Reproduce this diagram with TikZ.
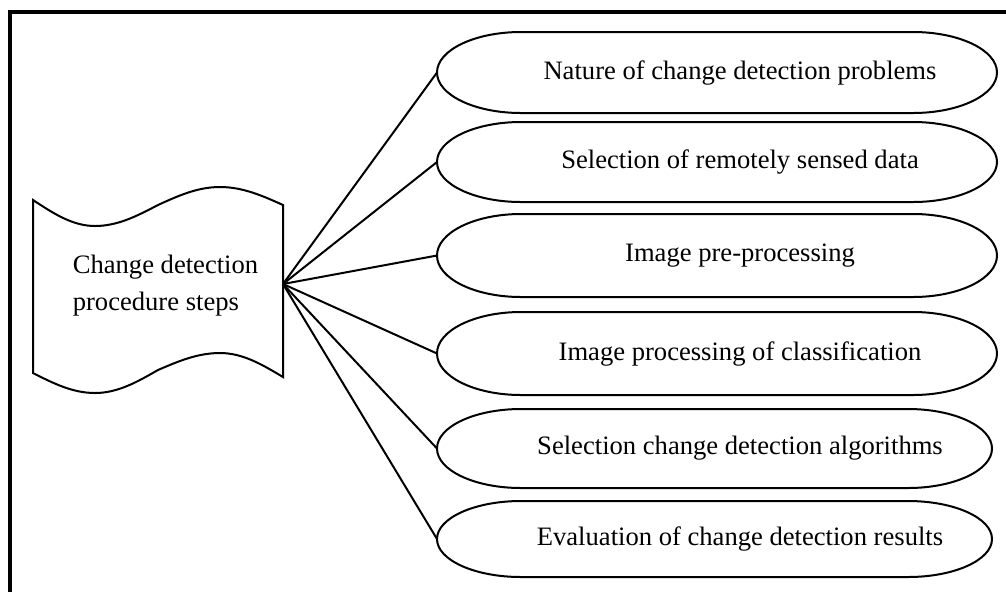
\documentclass[tikz,border=0pt]{standalone}
\usepackage{fontspec}
\setmainfont{Liberation Serif}

\begin{document}
\begin{tikzpicture}[x=0.5pt,y=-0.5pt,line width=1pt,
  font=\fontsize{13.3}{18.5}\selectfont,
  stepbox/.style={rectangle,inner sep=0pt,outer sep=0pt},
  steptext/.style={inner sep=0pt,anchor=center}]
\clip (0,0) rectangle (1006,591);
\useasboundingbox (0,0) rectangle (1006,591);
% outer frame, runs past the right and bottom edges
\draw[line width=2pt] (10,12) rectangle (1020,610);
% punched tape
\draw (33,200) sin (95,226) cos (158,205) sin (220,187) cos (283,205)
  -- (283,377) sin (220,353) cos (158,370) sin (95,393) cos (33,373) -- cycle;
\node[align=left,inner sep=0pt] (steps) at (165.5,286) {Change detection\\procedure steps};
\coordinate (fan) at (283,284);
% the six steps, flattened ovals
\foreach \i/\ecy/\ech/\ecx/\ecw/\etxt in {
  1/72.5/40.5/717/280/Nature of change detection problems,
  2/162/40/717/280/Selection of remotely sensed data,
  3/255.5/41.5/717/280/Image pre-processing,
  4/353.5/41.5/717/280/Image processing of classification,
  5/448.5/39.5/714.5/277.5/Selection change detection algorithms,
  6/539/38/714.5/277.5/Evaluation of change detection results}{
  \node[stepbox,minimum width=\ecw pt,minimum height=\ech pt] (e\i) at (\ecx,\ecy) {};
  \draw ([xshift=42pt]e\i.north west) -- ([xshift=-42pt]e\i.north east)
    arc[start angle=90,end angle=-90,x radius=42pt,y radius=\ech*0.5pt]
    -- ([xshift=42pt]e\i.south west)
    arc[start angle=270,end angle=90,x radius=42pt,y radius=\ech*0.5pt] -- cycle;
  \node[steptext] (t\i) at (740,\ecy) {\etxt};
  \draw (fan) -- (e\i.west);
}
\end{tikzpicture}
\end{document}
